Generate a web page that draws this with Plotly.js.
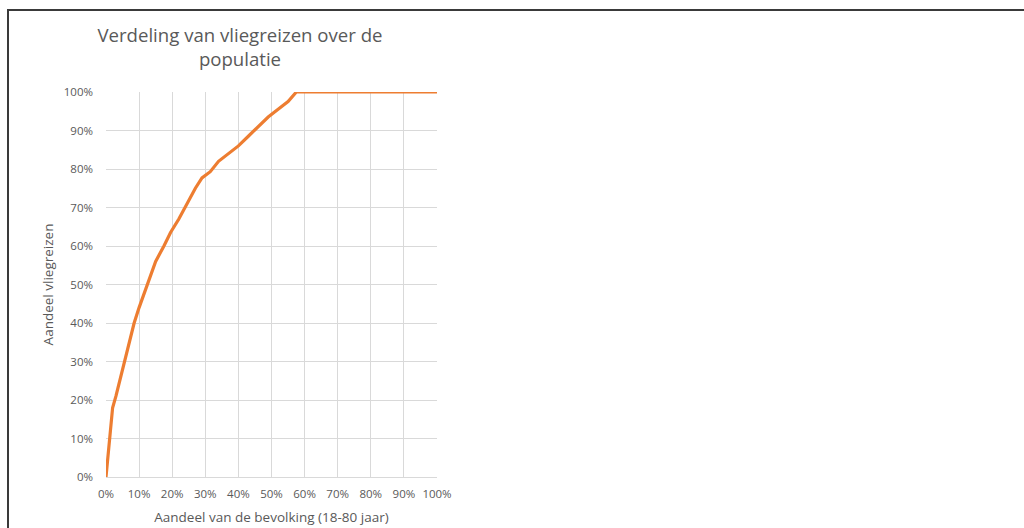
<!DOCTYPE html>
<html>
<head>
<meta charset="utf-8">
<script src="https://cdn.plot.ly/plotly-3.0.1.min.js"></script>
<style>
  html, body { margin: 0; padding: 0; background: #fff; }
  #chart { position: absolute; left: 0; top: 0; width: 1024px; height: 528px; }
  #frame { position: absolute; left: 7px; top: 9px; width: 1030px; height: 540px;
           border-top: 2px solid #3a3a3a; border-left: 2px solid #3a3a3a; pointer-events: none; }
</style>
</head>
<body>
<div id="chart"></div>
<div id="frame"></div>
<script>
// Share of population (%), cumulative
const populationShare = [0, 1, 2, 3, 5.5, 8.5, 10, 12.5, 15, 17.5, 19.5, 22, 24.5, 27, 29, 31.5, 34, 37, 40, 43, 46, 49, 52, 55, 57.5, 60, 70, 80, 90, 100];
// Share of flights (%), cumulative
const flightShare = [0, 9, 18, 21, 30, 40, 44, 50, 56, 60, 63.5, 67, 71, 75, 77.7, 79.3, 82, 84, 86, 88.5, 91, 93.5, 95.5, 97.5, 100, 100, 100, 100, 100, 100];
const tickValues = [0, 10, 20, 30, 40, 50, 60, 70, 80, 90, 100];
const tickLabels = ['0%', '10%', '20%', '30%', '40%', '50%', '60%', '70%', '80%', '90%', '100%'];

const trace = {
  x: populationShare.map(v => v / 100),
  y: flightShare.map(v => v / 100),
  type: 'scatter',
  mode: 'lines',
  line: { color: '#ED7D31', width: 3.2 },
  hoverinfo: 'skip'
};

const fontFam = '"Open Sans", "Liberation Sans", sans-serif';
const layout = {
  width: 1024, height: 528,
  margin: { l: 106, r: 587, t: 92, b: 51 },
  paper_bgcolor: '#ffffff', plot_bgcolor: '#ffffff',
  showlegend: false,
  font: { family: fontFam, color: '#595959' },
  title: {
    text: 'Verdeling van vliegreizen over de<br>populatie',
    font: { family: fontFam, size: 18.6, color: '#595959' },
    x: 240 / 1024, xanchor: 'center', xref: 'container',
    y: 0.92, yanchor: 'top', yref: 'container'
  },
  xaxis: {
    range: [0, 1],
    tickvals: tickValues.map(v => v / 100),
    ticktext: tickLabels,
    showgrid: true, gridcolor: '#d9d9d9', gridwidth: 1,
    zeroline: false, showline: true, linecolor: '#d9d9d9', linewidth: 1,
    ticks: '', ticklabelstandoff: 6,
    tickfont: { size: 11.5, color: '#595959', family: fontFam },
    title: { text: 'Aandeel van de bevolking (18-80 jaar)', font: { size: 13.5, color: '#595959', family: fontFam }, standoff: 12 },
    fixedrange: true
  },
  yaxis: {
    range: [0, 1],
    tickvals: tickValues.map(v => v / 100),
    ticktext: tickLabels,
    showgrid: true, gridcolor: '#d9d9d9', gridwidth: 1,
    zeroline: false, showline: false,
    ticks: '', ticklabelstandoff: 12,
    tickfont: { size: 11.5, color: '#595959', family: fontFam },
    title: { text: 'Aandeel vliegreizen', font: { size: 13.5, color: '#595959', family: fontFam }, standoff: 7 },
    fixedrange: true
  }
};

Plotly.newPlot('chart', [trace], layout, { displayModeBar: false, staticPlot: true });
</script>
</body>
</html>
